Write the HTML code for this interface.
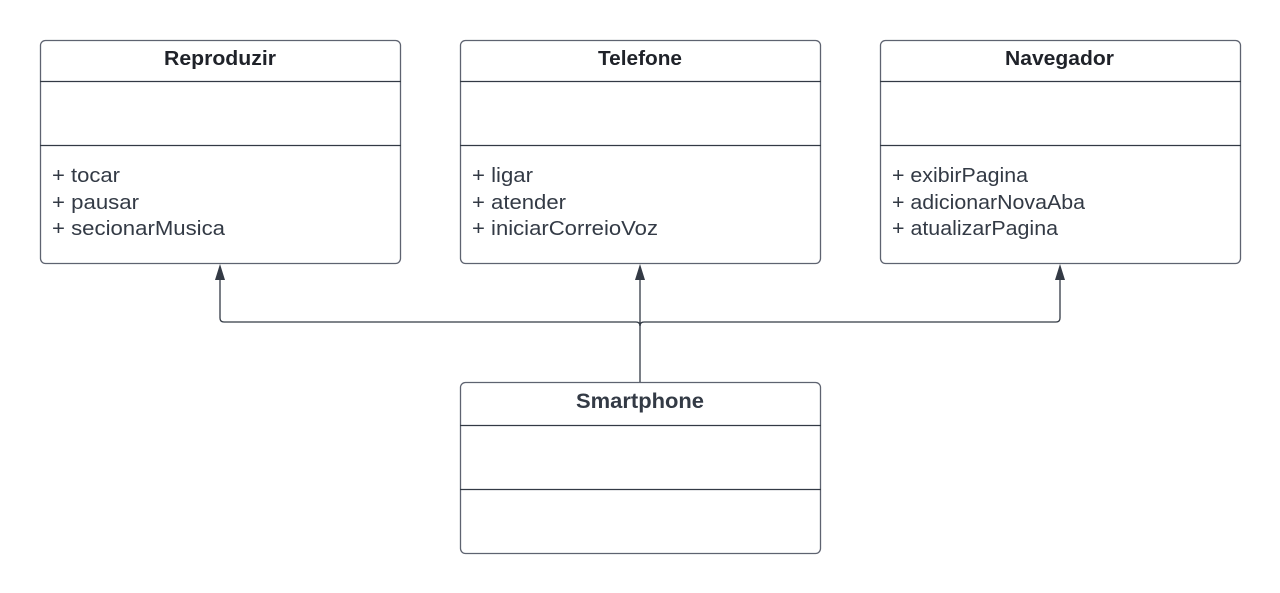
<!DOCTYPE html>
<html><head><meta charset="utf-8"><style>html,body{margin:0;padding:0;background:#fff;}svg{display:block}</style></head>
<body>
<svg width="1280" height="593" xmlns="http://www.w3.org/2000/svg" font-family="'Liberation Sans', sans-serif">
<g fill="#fff" stroke="#5e6370" stroke-width="1.3">
<rect x="40.5" y="40.5" width="360" height="223" rx="5"/>
<rect x="460.5" y="40.5" width="360" height="223" rx="5"/>
<rect x="880.5" y="40.5" width="360" height="223" rx="5"/>
<rect x="460.5" y="382.5" width="360" height="171" rx="5"/>
</g>
<g stroke="#333a45" stroke-width="1.3">
<line x1="40" y1="81.5" x2="401" y2="81.5"/><line x1="40" y1="145.5" x2="401" y2="145.5"/>
<line x1="460" y1="81.5" x2="821" y2="81.5"/><line x1="460" y1="145.5" x2="821" y2="145.5"/>
<line x1="880" y1="81.5" x2="1241" y2="81.5"/><line x1="880" y1="145.5" x2="1241" y2="145.5"/>
<line x1="460" y1="425.5" x2="821" y2="425.5"/><line x1="460" y1="489.5" x2="821" y2="489.5"/>
</g>
<g fill="none" stroke="#333a45" stroke-width="1.3">
<path d="M640 382 V280"/>
<path d="M220 280 V318 Q220 322 224 322 H636 Q640 322 640 326"/>
<path d="M1060 280 V318 Q1060 322 1056 322 H644 Q640 322 640 326"/>
</g>
<g fill="#333a45">
<polygon points="220,264 215,280 225,280"/>
<polygon points="640,264 635,280 645,280"/>
<polygon points="1060,264 1055,280 1065,280"/>
</g>
<g font-weight="bold" font-size="20" fill="#1f2229" lengthAdjust="spacingAndGlyphs">
<text x="164" y="65" textLength="112" lengthAdjust="spacingAndGlyphs">Reproduzir</text>
<text x="598" y="65" textLength="84" lengthAdjust="spacingAndGlyphs">Telefone</text>
<text x="1005" y="65" textLength="109" lengthAdjust="spacingAndGlyphs">Navegador</text>
<text x="576" y="408" font-size="21" fill="#333a45" textLength="128" lengthAdjust="spacingAndGlyphs">Smartphone</text>
</g>
<g font-size="20" fill="#333a45">
<text x="52" y="182" textLength="68" lengthAdjust="spacingAndGlyphs">+ tocar</text><text x="52" y="209" textLength="87" lengthAdjust="spacingAndGlyphs">+ pausar</text><text x="52" y="235" textLength="173" lengthAdjust="spacingAndGlyphs">+ secionarMusica</text>
<text x="472" y="182" textLength="61" lengthAdjust="spacingAndGlyphs">+ ligar</text><text x="472" y="209" textLength="94" lengthAdjust="spacingAndGlyphs">+ atender</text><text x="472" y="235" textLength="186" lengthAdjust="spacingAndGlyphs">+ iniciarCorreioVoz</text>
<text x="892" y="182" textLength="136" lengthAdjust="spacingAndGlyphs">+ exibirPagina</text><text x="892" y="209" textLength="193" lengthAdjust="spacingAndGlyphs">+ adicionarNovaAba</text><text x="892" y="235" textLength="166" lengthAdjust="spacingAndGlyphs">+ atualizarPagina</text>
</g>
</svg>
</body></html>
